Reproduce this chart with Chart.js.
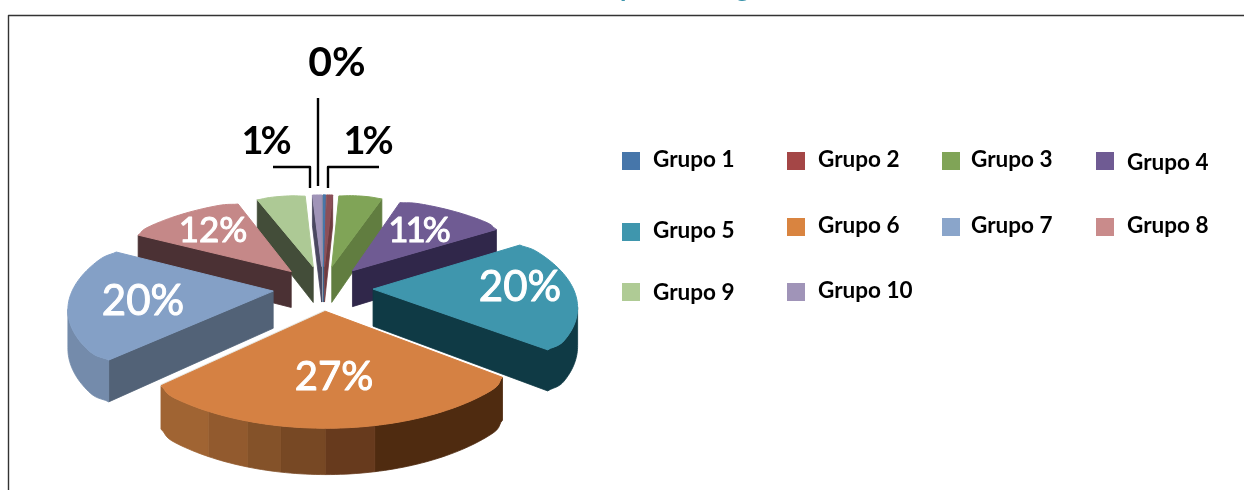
<!DOCTYPE html>
<html>
<head>
<meta charset="utf-8">
<style>
  html, body { margin: 0; padding: 0; background: #fff; overflow: hidden; }
  canvas { display: block; }
</style>
<script src="https://cdn.jsdelivr.net/npm/chart.js@4"></script>
</head>
<body>
<canvas id="pieChart" width="1244" height="490"></canvas>
<script>
// Data
const categories = ['Grupo 1', 'Grupo 2', 'Grupo 3', 'Grupo 4', 'Grupo 5', 'Grupo 6', 'Grupo 7', 'Grupo 8', 'Grupo 9', 'Grupo 10'];
const values = [0.2, 0.6, 4.2, 10.8, 19.9, 27, 20.1, 11.5, 4.7, 0.9];

const legendColors = ['#4676AA', '#A44646', '#80A457', '#6F5B93', '#3F96AD', '#D98440', '#8AA5CA', '#C98B8B', '#AFCB95', '#A094B8'];
const topColors = ['#4676AA', '#8B4F58', '#80A457', '#6F5B93', '#3F96AD', '#D58143', '#84A0C6', '#C58888', '#ADC995', '#A094B8'];
const cutWallColors = ['#3B5F88', '#6E3B40', '#617D40', '#30274A', '#0F3A45', '#4F2B10', '#526277', '#4B3134', '#434D39', '#4A4860'];
const arcWallColors = ['#3B5F88', '#6E3B40', '#617D40', '#30274A', '#0F3A45', '#4F2B10', '#748BAB', '#4B3134', '#434D39', '#4A4860'];

// orange rim is banded in the original, left to right
const orangeBands = ['#A06433', '#925A2E', '#845229', '#774824', '#673A1D', '#4F2B10'];
const orangeBandEdges = [210, 248, 280, 325, 373];

// where text sits: [x, y] centre of each percent label, null = no label
const labelPos = [[337, 63], [367, 142], null, [418, 231], [520, 287], [334, 377], [143, 301], [213, 231], null, [265, 142]];
const labelSize = [41, 38, 0, 35, 42, 40, 42, 35, 0, 38];
const labelTrack = [0, -3, 0, -3, 0, 0, 0, 0, 0, -3];
const legendSwatches = [[622, 152], [787, 152], [942, 152], [1096, 152], [622, 223], [787, 218], [942, 218], [1096, 218], [622, 283], [787, 283]];
const legendBaselines = [167, 167, 167, 170, 238, 233, 233, 233, 300, 298];
const legendTextX = [653, 818, 971, 1127, 653, 818, 971, 1127, 653, 818];

// perspective of the tilted pie
const EXPLODE = 50;
const DEPTH = 37;
const CAMERA = 1240;
const TILT = 0.448;

function project(cx, cy, x, y, z) {
  const s = CAMERA / (CAMERA - y);
  return { x: cx + x * s, y: cy + TILT * y * s + z * s };
}

function outline(arc) {
  const span = arc.endAngle - arc.startAngle;
  const mid = (arc.startAngle + arc.endAngle) / 2;
  const ox = Math.cos(mid) * EXPLODE;
  const oy = Math.sin(mid) * EXPLODE;
  const steps = Math.max(3, Math.ceil(span / 0.02));
  const round = 0.025 * Math.min(1, span / 0.5);
  const pts = [[ox, oy]];
  for (let i = 0; i <= steps; i++) {
    const a = arc.startAngle + span * i / steps;
    const d = Math.min(a - arc.startAngle, arc.endAngle - a);
    const r = arc.outerRadius * (1 - round * Math.exp(-(d * d) / 0.003));
    pts.push([ox + Math.cos(a) * r, oy + Math.sin(a) * r]);
  }
  return pts;
}

function wallColor(i, edge, x, last) {
  if (edge === 0 || edge === last) return cutWallColors[i];
  if (i === 5) {
    let b = 0;
    while (b < orangeBandEdges.length && x > orangeBandEdges[b]) b++;
    return orangeBands[b];
  }
  return arcWallColors[i];
}

// walls of one colour go down as one polygon, no seams
function fillWall(ctx, top, bot, edges, col) {
  ctx.fillStyle = col;
  ctx.strokeStyle = col;
  ctx.lineWidth = 0.8;
  ctx.beginPath();
  ctx.moveTo(top[edges[0]].x, top[edges[0]].y);
  edges.forEach(k => ctx.lineTo(top[k].x, top[k].y));
  edges.slice().reverse().forEach(k => ctx.lineTo(bot[k].x, bot[k].y));
  ctx.closePath();
  ctx.fill();
  ctx.stroke();
}

const pie3d = {
  id: 'pie3d',
  // the stock flat arcs are replaced by the extruded ones
  beforeDatasetDraw(chart) {
    const ctx = chart.ctx;
    const arcs = chart.getDatasetMeta(0).data;
    const order = arcs.map((a, i) => i).sort((p, q) =>
      Math.sin((arcs[p].startAngle + arcs[p].endAngle) / 2) - Math.sin((arcs[q].startAngle + arcs[q].endAngle) / 2));

    order.forEach(i => {
      const arc = arcs[i];
      const pts = outline(arc);
      const top = pts.map(p => project(arc.x, arc.y, p[0], p[1], 0));
      const bot = pts.map(p => project(arc.x, arc.y, p[0], p[1], DEPTH));
      const n = pts.length;
      ctx.lineJoin = 'round';

      let run = null;
      let runCol = null;
      for (let e = 0; e < n; e++) {
        const f = (e + 1) % n;
        if (top[f].x >= top[e].x) { // faces away
          if (run) fillWall(ctx, top, bot, run, runCol);
          run = null;
          continue;
        }
        const col = wallColor(i, e, (top[e].x + top[f].x) / 2, n - 1);
        if (run && col === runCol) {
          run.push(f);
        } else {
          if (run) fillWall(ctx, top, bot, run, runCol);
          run = [e, f];
          runCol = col;
        }
      }
      if (run) fillWall(ctx, top, bot, run, runCol);

      // pale edge along the left cut of the big slice
      if (i === 5) {
        ctx.strokeStyle = '#E6E3DC';
        ctx.lineWidth = 3;
        ctx.beginPath();
        ctx.moveTo(top[0].x, top[0].y);
        ctx.lineTo(top[n - 1].x, top[n - 1].y);
        ctx.stroke();
      }

      ctx.fillStyle = topColors[i];
      ctx.strokeStyle = topColors[i];
      ctx.lineWidth = 1;
      ctx.beginPath();
      top.forEach((p, k) => k ? ctx.lineTo(p.x, p.y) : ctx.moveTo(p.x, p.y));
      ctx.closePath();
      ctx.fill();
      ctx.stroke();
    });
    return false;
  },
  afterDraw(chart) {
    const ctx = chart.ctx;
    // frame, cut off by the crop on two sides
    ctx.strokeStyle = '#333';
    ctx.lineWidth = 1.4;
    ctx.beginPath();
    ctx.moveTo(8.5, 490);
    ctx.lineTo(8.5, 15.5);
    ctx.lineTo(1244, 15.5);
    ctx.stroke();

    // what the crop leaves of the title above the frame: two descenders
    ctx.fillStyle = '#3F96AD';
    ctx.font = 'bold 26px Lato';
    ctx.textAlign = 'left';
    ctx.textBaseline = 'alphabetic';
    ctx.fillText('p', 620, -3);
    ctx.fillText('g', 736, -3);

    // leader lines for the three thin slices
    ctx.strokeStyle = '#000';
    ctx.lineWidth = 2.4;
    ctx.beginPath();
    ctx.moveTo(318, 98); ctx.lineTo(318, 186);
    ctx.moveTo(273, 167); ctx.lineTo(310, 167); ctx.lineTo(310, 188);
    ctx.moveTo(379, 167); ctx.lineTo(328, 167); ctx.lineTo(328, 188);
    ctx.stroke();

    // percent labels
    ctx.textAlign = 'center';
    ctx.textBaseline = 'middle';
    ctx.lineJoin = 'round';
    values.forEach((v, i) => {
      if (!labelPos[i]) return;
      const outside = i < 2 || i === 9;
      ctx.font = (outside ? 'bold ' : '') + labelSize[i] + 'px Lato';
      ctx.letterSpacing = labelTrack[i] + 'px';
      ctx.fillStyle = outside ? '#000' : '#fff';
      ctx.fillText(Math.round(v) + '%', labelPos[i][0], labelPos[i][1]);
      if (!outside) {
        ctx.strokeStyle = '#fff';
        ctx.lineWidth = 1;
        ctx.strokeText(Math.round(v) + '%', labelPos[i][0], labelPos[i][1]);
      }
    });
    ctx.letterSpacing = '0px';

    // legend
    ctx.textAlign = 'left';
    ctx.textBaseline = 'alphabetic';
    ctx.font = 'bold 22.5px Lato';
    categories.forEach((name, i) => {
      ctx.fillStyle = legendColors[i];
      ctx.fillRect(legendSwatches[i][0], legendSwatches[i][1], 18, 18);
      ctx.fillStyle = '#000';
      ctx.fillText(name, legendTextX[i], legendBaselines[i]);
    });
  }
};

new Chart(document.getElementById('pieChart'), {
  type: 'pie',
  data: {
    labels: categories,
    datasets: [{ data: values, backgroundColor: legendColors, borderWidth: 0 }]
  },
  options: {
    responsive: false,
    animation: false,
    radius: 200,
    layout: { padding: { top: 86, right: 598 } },
    plugins: {
      legend: { display: false },
      tooltip: { enabled: false }
    }
  },
  plugins: [pie3d]
});
</script>
</body>
</html>
